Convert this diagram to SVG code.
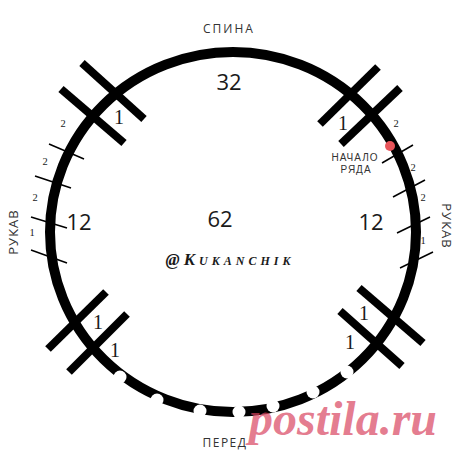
<svg xmlns="http://www.w3.org/2000/svg" width="460" height="460" viewBox="0 0 460 460">
<style>
.ring{fill:none;stroke:#000;stroke-width:10}
.cross{stroke:#000;stroke-width:8;stroke-linecap:butt}
.tick{stroke:#000;stroke-width:1.5}
.gap{fill:#fff}
.big{font-family:"Open Sans","Noto Sans",sans-serif;font-size:22px;fill:#1a1a1a;text-anchor:middle}
.one{font-family:"Liberation Serif","Times New Roman",serif;font-size:20px;fill:#1a1a1a;text-anchor:middle}
.sm{font-family:"Liberation Serif","Times New Roman",serif;font-size:10.5px;fill:#1a1a1a;text-anchor:middle}
.lab{font-family:"Open Sans","Noto Sans",sans-serif;fill:#333;text-anchor:middle}
.lab2{font-family:"Liberation Sans",Arial,sans-serif;font-size:10px;letter-spacing:1px;fill:#333;text-anchor:middle}
</style>
<rect width="460" height="460" fill="#fff"/>
<g id="ring">
<ellipse class="ring" cx="233" cy="232" rx="183" ry="180"/>
<g id="gaps">
<circle class="gap" cx="120" cy="377" r="6.5"/>
<circle class="gap" cx="157" cy="400" r="6.5"/>
<circle class="gap" cx="200" cy="411" r="6.5"/>
<circle class="gap" cx="239" cy="412" r="6.5"/>
<circle class="gap" cx="273" cy="406" r="6.5"/>
<circle class="gap" cx="313" cy="392" r="6.5"/>
<circle class="gap" cx="347" cy="372" r="6.5"/>
</g>
</g>
<g id="connectors">
<line class="cross" x1="82" y1="63" x2="144" y2="119"/>
<line class="cross" x1="61" y1="89" x2="124" y2="143"/>
<line class="cross" x1="378" y1="67" x2="320" y2="124"/>
<line class="cross" x1="400" y1="88" x2="341" y2="144"/>
<line class="cross" x1="106" y1="292" x2="48" y2="349"/>
<line class="cross" x1="127" y1="314" x2="69" y2="372"/>
<line class="cross" x1="359" y1="288" x2="423" y2="343"/>
<line class="cross" x1="340" y1="311" x2="402" y2="366"/>
<line class="tick" x1="49" y1="144" x2="84" y2="159"/>
<line class="tick" x1="35" y1="176" x2="71" y2="188"/>
<line class="tick" x1="31" y1="217" x2="67" y2="228"/>
<line class="tick" x1="31" y1="250" x2="67" y2="263"/>
<line class="tick" x1="413" y1="145" x2="382" y2="163"/>
<line class="tick" x1="425" y1="180" x2="393" y2="197"/>
<line class="tick" x1="430" y1="217" x2="397" y2="233"/>
<line class="tick" x1="433" y1="252" x2="400" y2="268"/>
</g>
<g id="start-dot"><circle cx="390" cy="146" r="5" fill="#e8545a"/></g>
<g id="back"><text class="lab" x="229" y="33" font-size="12" letter-spacing="2">СПИНА</text><text class="big" x="229" y="90">32</text></g>
<g id="front"><text class="lab" x="225" y="447" font-size="12" letter-spacing="1.5">ПЕРЕД</text></g>
<g id="center"><text class="big" x="220" y="227">62</text>
<text x="230" y="265" text-anchor="middle" font-family="Liberation Serif,serif" font-size="17" font-weight="bold" font-style="italic" font-variant="small-caps" letter-spacing="4" fill="#1a1a1a">@Kukanchik</text></g>
<g id="left-sleeve"><text class="lab" font-size="13" letter-spacing="1" transform="translate(18,232) rotate(-90)">РУКАВ</text><text class="big" x="79" y="230">12</text>
<text class="sm" x="63" y="127">2</text><text class="sm" x="45" y="165">2</text><text class="sm" x="35" y="201">2</text><text class="sm" x="32" y="236">1</text></g>
<g id="right-sleeve"><text class="lab" font-size="13" letter-spacing="1" transform="translate(442,226) rotate(90)">РУКАВ</text><text class="big" x="371" y="230">12</text>
<text class="sm" x="396" y="127">2</text><text class="sm" x="413" y="171">2</text><text class="sm" x="423" y="201">2</text><text class="sm" x="423" y="244">1</text></g>
<g id="row-start"><text class="lab2" x="355" y="161">НАЧАЛО</text><text class="lab2" x="356" y="173">РЯДА</text></g>
<g id="marks">
<text class="one" x="119" y="124">1</text>
<text class="one" x="343" y="130">1</text>
<text class="one" x="98" y="329">1</text>
<text class="one" x="115" y="357">1</text>
<text class="one" x="364" y="320">1</text>
<text class="one" x="350" y="349">1</text>
</g>
<g id="watermark"><text x="343" y="435" text-anchor="middle" font-family="Liberation Serif,serif" font-size="48" font-weight="bold" font-style="italic" fill="#d9435e" fill-opacity="0.7">postila.ru</text></g>
</svg>
